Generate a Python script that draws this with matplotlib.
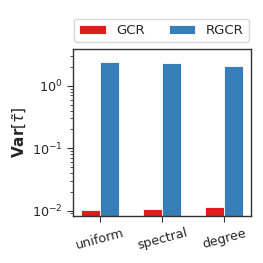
import numpy as np
import matplotlib
matplotlib.use('Agg')
import matplotlib.pyplot as plt
import seaborn as sns

# 数据
categories = ['uniform', 'spectral', 'degree']
gcr_var = [0.0103, 0.0106, 0.0113]
rgcr_var = [2.43, 2.31, 2.09]
series_names = ['GCR', 'RGCR']
colors = ['#e41a1c', '#377eb8']

sns.set_style('ticks')
plt.rcParams['font.family'] = ['DejaVu Sans']
plt.rcParams['mathtext.fontset'] = 'dejavusans'

fig = plt.figure(figsize=(2.63, 2.63), dpi=100)
ax = fig.add_axes([0.278, 0.179, 0.676, 0.635])

x = np.arange(len(categories))
w = 0.3
ax.bar(x - w / 2, gcr_var, w, color=colors[0], edgecolor='white', linewidth=0.6, label=series_names[0])
ax.bar(x + w / 2, rgcr_var, w, color=colors[1], edgecolor='white', linewidth=0.6, label=series_names[1])

ax.set_yscale('log')
ax.set_ylim(0.0082, 3.9)
ax.set_xlim(-0.435, 2.435)
ax.set_xticks(x)
ax.set_xticklabels(categories, rotation=15, fontsize=9.2)
ax.tick_params(axis='y', labelsize=9.2)
ax.tick_params(axis='both', which='major', length=4, width=0.8, color='#333333')
ax.tick_params(axis='y', which='minor', length=2.5, width=0.6, color='#333333')
for s in ax.spines.values():
    s.set_color('#333333')
    s.set_linewidth(1.0)

ax.set_ylabel(r'$\mathbf{Var}[\tilde{\tau}]$', fontsize=11, labelpad=2)

fig.legend(loc='lower center', bbox_to_anchor=(161.5 / 263, 0.840),
           bbox_transform=fig.transFigure, borderaxespad=0, ncol=2, fontsize=9.5,
           columnspacing=1.8, frameon=True)

fig.savefig('out.png', dpi=100)
